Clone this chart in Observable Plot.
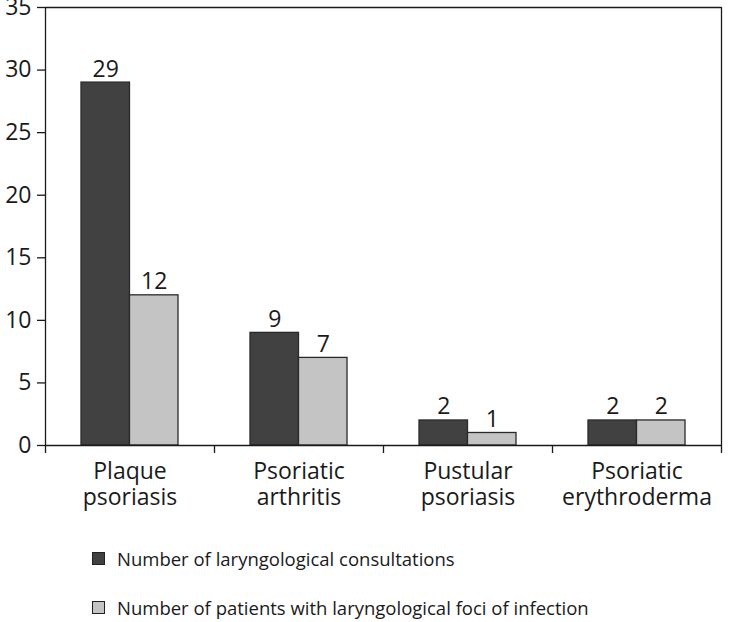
<!DOCTYPE html>
<html><head><meta charset="utf-8">
<script src="https://cdn.jsdelivr.net/npm/d3@7"></script>
<script src="https://cdn.jsdelivr.net/npm/@observablehq/plot@0.6"></script>
<style>
body{margin:0;background:#fff;font-family:"Open Sans",sans-serif;}
#legend{position:relative;height:92px;}
.item{position:absolute;left:92px;display:flex;align-items:center;font-size:18.5px;color:#1a1a1a;white-space:nowrap}
.sw{width:11px;height:11px;border:1px solid #222;margin-right:12px}
</style></head><body><div id="chart"></div><div id="legend"></div>
<script>
const categories = ["Plaque psoriasis", "Psoriatic arthritis", "Pustular psoriasis", "Psoriatic erythroderma"];
const categoryLabels = ["Plaque\npsoriasis", "Psoriatic\narthritis", "Pustular\npsoriasis", "Psoriatic\nerythroderma"];
const consultations = [29, 9, 2, 2];
const fociPatients = [12, 7, 1, 2];
const seriesNames = ["Number of laryngological consultations", "Number of patients with laryngological foci of infection"];
const yTicks = [0, 5, 10, 15, 20, 25, 30, 35];
const colors = ["#414141", "#c4c4c4"];

const data = categories.flatMap((c, i) => [
  {cat: c, idx: i, s: 0, series: seriesNames[0], value: consultations[i]},
  {cat: c, idx: i, s: 1, series: seriesNames[1], value: fociPatients[i]}
]);
const barW = 0.287; // bar width in category units

const chart = Plot.plot({
  width: 733,
  height: 530,
  marginTop: 7,
  marginLeft: 45,
  marginRight: 12,
  marginBottom: 85,
  style: {fontFamily: "Open Sans, sans-serif", fontSize: "23px", color: "#1a1a1a", background: "white"},
  x: {type: "linear", domain: [0, categories.length], label: null},
  y: {domain: [0, 35], label: null},
  color: {domain: seriesNames, range: colors},
  marks: [
    Plot.rectY(data, {
      x1: d => d.idx + 0.5 - (d.s === 0 ? barW : 0),
      x2: d => d.idx + 0.5 + (d.s === 1 ? barW : 0),
      y: "value", fill: "series", stroke: "#2a2a2a", strokeWidth: 1.3
    }),
    Plot.text(data, {
      x: d => d.idx + 0.5 + (d.s === 0 ? -barW / 2 : barW / 2),
      y: "value", text: d => String(d.value), dy: -6, lineAnchor: "bottom", fontSize: 23
    }),
    Plot.text(categoryLabels, {
      x: (d, i) => i + 0.5, text: d => d, frameAnchor: "bottom", lineAnchor: "top",
      dy: 15, lineHeight: 1.13, fontSize: 23
    }),
    Plot.ruleY([0, 35], {stroke: "#1a1a1a", strokeWidth: 1.3}),
    Plot.ruleX([0, categories.length], {stroke: "#1a1a1a", strokeWidth: 1.3}),
    Plot.axisX({ticks: d3.range(categories.length + 1), tickSize: 8, tickFormat: () => "", stroke: "#1a1a1a", strokeWidth: 1.3, label: null}),
    Plot.axisY({ticks: yTicks, tickSize: 8, tickPadding: 6, stroke: "#1a1a1a", strokeWidth: 1.3, label: null})
  ]
});
document.getElementById("chart").appendChild(chart);

const legend = document.getElementById("legend");
seriesNames.forEach((name, i) => {
  const item = document.createElement("div");
  item.className = "item";
  item.style.top = (16 + i * 49) + "px";
  const sw = document.createElement("span");
  sw.className = "sw";
  sw.style.background = colors[i];
  item.appendChild(sw);
  item.appendChild(document.createTextNode(name));
  legend.appendChild(item);
});
</script></body></html>
